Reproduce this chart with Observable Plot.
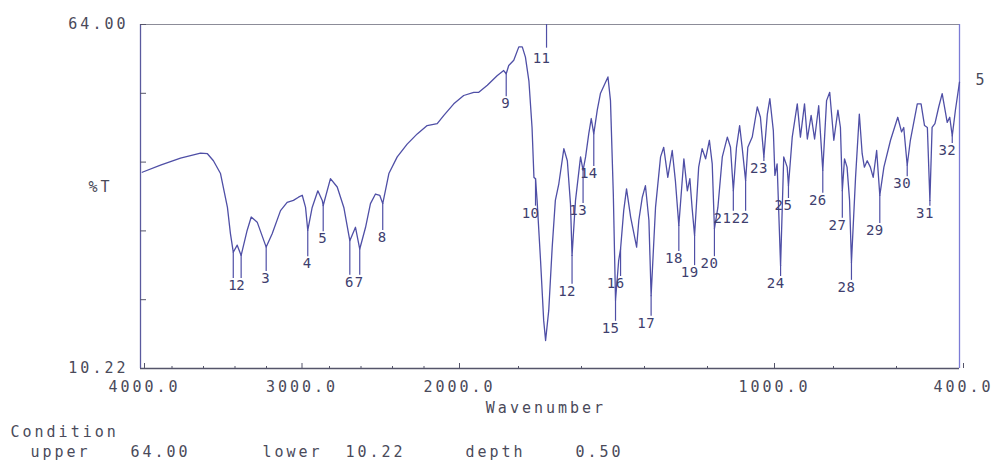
<!DOCTYPE html>
<html><head><meta charset="utf-8">
<script src="https://cdn.jsdelivr.net/npm/d3@7"></script>
<script src="https://cdn.jsdelivr.net/npm/@observablehq/plot@0.6"></script>
<style>
body{margin:0;background:#fff;}
#chart svg{display:block;}
#chart svg text{letter-spacing:3px;}
#chart svg g[fill="#3e3e6e"] text{letter-spacing:0.5px;}
</style></head><body><div id="chart"></div>
<script>
// IR spectrum: wavenumber (cm-1) and %T
const wavenumber = [
3989,3873,3746,3619,3575,3537,3492,3448,3429,3411,
3386,3361,3323,3297,3259,3202,3164,3111,3069,3029,
2997,2973,2952,2938,2910,2874,2846,2840,2794,2751,
2709,2671,2635,2608,2571,2540,2508,2481,2462,2423,
2370,2307,2243,2180,2116,2074,2011,1974,1942,1926,
1899,1868,1847,1839,1831,1815,1799,1788,1778,1767,
1757,1751,1746,1741,1730,1720,1714,1704,1693,1683,
1672,1656,1645,1635,1630,1619,1603,1595,1587,1577,
1569,1561,1550,1540,1516,1508,1499,1492,1482,1476,
1466,1457,1444,1425,1418,1407,1397,1386,1379,1365,
1349,1339,1326,1312,1302,1291,1275,1264,1256,1249,
1241,1228,1217,1206,1194,1185,1178,1167,1153,1137,
1127,1118,1108,1098,1090,1079,1072,1058,1042,1032,
1021,1010,1002,991,986,979,968,958,947,943,
931,915,905,892,883,871,860,847,834,822,
812,799,786,778,772,765,757,749,743,730,
718,709,702,693,683,674,663,653,640,619,
596,584,577,566,556,534,522,511,502,494,
487,478,466,455,439,431,423,413,400];
const transmittance = [
40.9,42.0,43.1,43.9,43.8,42.7,40.7,35.4,31.3,28.4,
29.5,27.9,31.8,33.9,33.1,29.2,31.3,34.9,36.2,36.5,
37.0,37.3,35.4,31.8,35.4,38.0,36.5,35.7,39.9,38.6,
35.4,30.2,32.3,28.9,32.3,36.0,37.5,37.3,36.0,40.7,
43.3,45.3,46.9,48.2,48.5,49.8,51.6,52.9,53.4,53.4,
54.5,56.0,56.8,56.3,57.6,58.4,60.5,60.5,58.9,55.2,
47.9,40.1,39.9,36.5,27.1,17.7,14.6,19.3,29.2,36.5,
39.1,44.6,42.7,36.0,27.9,36.5,43.3,41.2,43.3,46.9,
49.3,46.9,50.6,53.2,55.8,52.1,37.5,20.9,27.1,28.9,
34.9,38.3,33.9,29.2,33.4,37.0,38.8,33.4,21.6,35.4,
43.3,44.8,40.1,44.3,39.6,32.6,43.0,38.0,39.9,35.4,
31.0,41.7,44.6,43.0,45.9,42.2,32.1,35.4,43.3,46.4,
44.8,38.0,44.8,48.2,44.8,39.6,44.8,46.4,51.1,49.5,
43.3,50.0,52.4,47.4,40.4,42.2,26.3,43.3,41.7,38.8,
46.4,51.6,46.4,51.6,46.1,49.8,46.1,51.3,41.2,52.1,
53.4,45.9,50.6,47.9,38.0,43.0,41.7,36.5,26.8,40.1,
50.0,43.8,41.7,42.7,41.7,40.1,44.3,37.3,41.7,45.9,
49.5,47.2,47.9,42.0,45.9,51.6,51.6,48.2,47.9,36.5,
47.9,48.5,51.1,53.2,48.7,49.5,46.6,50.6,55.0];

// Peak picks
const peakNumber = [1,2,3,4,5,6,7,8,9,10,11,12,13,14,15,16,17,18,19,20,21,22,23,24,25,26,27,28,29,30,31,32];
const peakWavenumber = [3411,3361,3202,2938,2840,2671,2608,2462,1839,1746,1711,1630,1595,1561,1492,1476,1379,1291,1241,1178,1118,1079,1021,968,943,834,772,743,653,566,494,423];
const peakLabelT = [23.2,23.2,24.3,26.6,30.5,23.7,23.7,30.7,51.6,34.5,58.7,22.3,34.9,40.7,16.5,23.5,17.3,27.4,25.2,26.6,33.7,33.7,41.5,23.5,35.7,36.5,32.6,22.9,31.8,39.1,34.5,44.3];

const xTicks = [4000,3000,2000,1000,400];
const xMinorTicks = [3800,3600,3400,3200,2800,2600,2400,2200,1800,1600,1400,1200,800,600];
const yTicks = [10.22,20.976,31.732,42.488,53.244,64];
const yUpper = 64.00, yLower = 10.22, depth = 0.50;

if (wavenumber.length !== transmittance.length) throw new Error("length mismatch " + wavenumber.length + " " + transmittance.length);

const spectrum = wavenumber.map((w, i) => ({w, t: transmittance[i]}));
const peaks = peakNumber.map((n, i) => {
  const w = peakWavenumber[i];
  let idx = 0;
  wavenumber.forEach((v, j) => { if (Math.abs(v - w) < Math.abs(wavenumber[idx] - w)) idx = j; });
  const trough = transmittance[idx];
  const label = peakLabelT[i];
  const above = label > trough;
  return {n, w, label, y1: above ? yUpper : trough, y2: above ? label + 1.6 : label + 1.1};
});

const curveColor = "#4f4fa6";
const textColor = "#4a4a5a";

const chart = Plot.plot({
  width: 1006, height: 461,
  marginLeft: 140, marginRight: 47, marginTop: 24, marginBottom: 93,
  style: {fontFamily: "'DejaVu Sans Mono', monospace", fontSize: "15px", color: textColor, background: "#fff", overflow: "visible"},
  x: {type: "linear", domain: [4000, 2000, 400], range: [140, 455, 959]},
  y: {domain: [yLower, yUpper]},
  marks: [
    Plot.ruleY([yUpper], {stroke: "#8c8c98", strokeWidth: 1.2}),
    Plot.ruleY([yLower], {stroke: "#55556a", strokeWidth: 1.3}),
    Plot.ruleX([4000], {stroke: "#5a5a9e", strokeWidth: 1.3}),
    Plot.ruleX([400], {stroke: "#7b7bd6", strokeWidth: 1.3}),
    Plot.axisY({ticks: yTicks, tickSize: -6, tickPadding: 18, stroke: "#55556a",
      tickFormat: d => (d === yUpper || d === yLower) ? d.toFixed(2) : "", label: null, fill: textColor}),
    Plot.axisX({ticks: xTicks, tickSize: -5, tickPadding: 18, dx: 4, stroke: "#55556a",
      tickFormat: d => d.toFixed(1), label: null, fill: textColor}),
    Plot.axisX({ticks: xMinorTicks, tickSize: -2, stroke: "#55556a", tickFormat: () => "", label: null}),
    Plot.line(spectrum, {x: "w", y: "t", stroke: curveColor, strokeWidth: 1.3}),
    Plot.ruleX(peaks, {x: "w", y1: "y1", y2: "y2", stroke: curveColor, strokeWidth: 1.2}),
    Plot.text(peaks, {filter: d => d.n !== 21, x: "w", y: "label", text: d => String(d.n), textAnchor: "end", dx: 4, fill: "#3e3e6e", fontSize: 14}),
    Plot.text(peaks, {filter: d => d.n === 21, x: "w", y: "label", text: d => String(d.n), textAnchor: "end", dx: -2, fill: "#3e3e6e", fontSize: 14}),
    Plot.text(["%T"], {frameAnchor: "left", dx: -52, dy: -9, textAnchor: "start", fill: textColor}),
    Plot.text(["5"], {frameAnchor: "top-right", dx: 28, dy: 50, fill: textColor}),
    Plot.text(["Wavenumber"], {frameAnchor: "bottom", dx: -4, dy: 44, fill: textColor}),
    Plot.text(["Condition"], {frameAnchor: "bottom-left", dx: -130, dy: 68, textAnchor: "start", fill: textColor}),
    Plot.text(["upper"], {frameAnchor: "bottom-left", dx: -110, dy: 88, textAnchor: "start", fill: textColor}),
    Plot.text([yUpper.toFixed(2)], {frameAnchor: "bottom-left", dx: -10, dy: 88, textAnchor: "start", fill: textColor}),
    Plot.text(["lower"], {frameAnchor: "bottom-left", dx: 122, dy: 88, textAnchor: "start", fill: textColor}),
    Plot.text([yLower.toFixed(2)], {frameAnchor: "bottom-left", dx: 205, dy: 88, textAnchor: "start", fill: textColor}),
    Plot.text(["depth"], {frameAnchor: "bottom-left", dx: 325, dy: 88, textAnchor: "start", fill: textColor}),
    Plot.text([depth.toFixed(2)], {frameAnchor: "bottom-left", dx: 435, dy: 88, textAnchor: "start", fill: textColor})
  ]
});
document.getElementById("chart").appendChild(chart);
</script>
</body></html>
